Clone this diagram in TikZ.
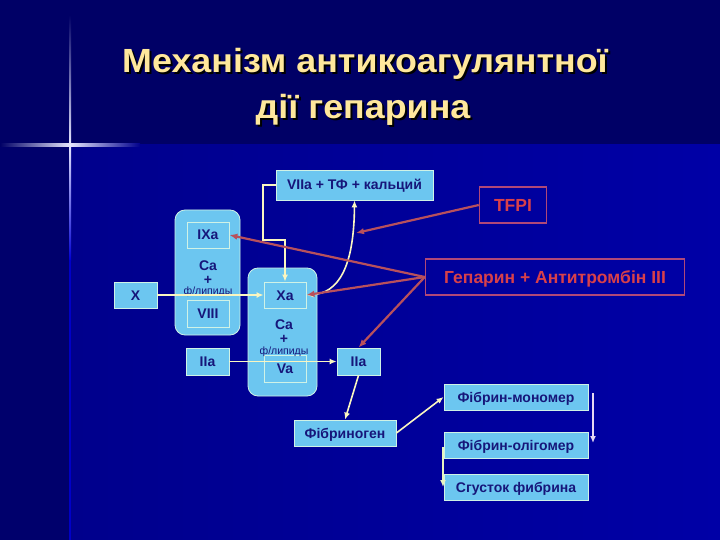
\documentclass[tikz,border=0pt]{standalone}
\usepackage{fontspec}
\setmainfont{Liberation Sans}
\usetikzlibrary{arrows.meta,calc}
\definecolor{bgtop}{HTML}{000066}
\definecolor{bgleft}{HTML}{00006C}
\definecolor{bgmainL}{HTML}{00008C}
\definecolor{bgmainR}{HTML}{0000A6}
\definecolor{boxfill}{HTML}{6CC6F0}
\definecolor{boxline}{HTML}{CFF2E6}
\definecolor{boxtext}{HTML}{16167A}
\definecolor{redline}{HTML}{B04878}
\definecolor{redtext}{HTML}{D8404A}
\definecolor{redarr}{HTML}{B8505C}
\definecolor{yel}{HTML}{FAF6C0}
\definecolor{lav}{HTML}{E6D8F2}
\definecolor{ygreen}{HTML}{E8F4C0}
\definecolor{titlecol}{HTML}{FFE89C}
\begin{document}
\begin{tikzpicture}[x=1pt,y=-1pt,
  box/.style={draw=boxline, fill=boxfill, text=boxtext, font=\bfseries\fontsize{14}{16}\selectfont, inner sep=0pt, line width=0.8pt, text height=10pt, text depth=0pt},
  grp/.style={draw=boxline, fill=boxfill, rounded corners=10pt, line width=0.8pt, inner sep=0pt},
  redbox/.style={draw=redline, text=redtext, font=\bfseries\fontsize{17.5}{19}\selectfont, inner sep=0pt, line width=1.4pt, text height=12.5pt, text depth=0pt},
  yarrow/.style={draw=yel, line width=1.6pt, -{Latex[length=7pt,width=6pt]}},
  rarrow/.style={draw=redarr, line width=2.2pt, -{Latex[length=8pt,width=6.5pt]}},
  catext/.style={text=boxtext, font=\bfseries\fontsize{14}{16}\selectfont, inner sep=0pt},
  fltext/.style={text=boxtext, font=\fontsize{10.5}{12}\selectfont, inner sep=0pt},
  ttl/.style={font=\bfseries\fontsize{33.5}{38}\selectfont, anchor=base, inner sep=0pt}
]
\useasboundingbox (0,0) rectangle (720,540);
% background
\fill[bgtop] (0,0) rectangle (720,540);
\fill[bgleft] (0,145) rectangle (70,540);
\shade[left color=bgmainL, right color=bgmainR] (70,145) rectangle (720,540);
% star
\shade[left color=bgtop, right color=white!90!blue] (0,144) rectangle (70,146.5);
\shade[left color=white!90!blue, right color=bgmainL] (70,144) rectangle (140,146.5);
\shade[top color=bgtop, bottom color=white!90!blue] (69,15) rectangle (71.2,145);
\shade[top color=white!90!blue, bottom color=blue!60!bgmainL] (69,145) rectangle (71.2,260);
\fill[blue!50!bgmainL] (69,260) rectangle (71.2,540);
% title
\node[ttl, text=black] at (367,75) {\scalebox{1.07}[1]{Механізм антикоагулянтної}};
\node[ttl, text=black] at (365,121) {\scalebox{1.07}[1]{дії гепарина}};
\node[ttl, text=titlecol] (t1) at (365,73) {\scalebox{1.07}[1]{Механізм антикоагулянтної}};
\node[ttl, text=titlecol] (t2) at (363,119) {\scalebox{1.07}[1]{дії гепарина}};
% groups
\node[grp, minimum width=65pt, minimum height=125pt] (g1) at (207.5,272.5) {};
\node[grp, minimum width=69pt, minimum height=128pt] (g2) at (282.5,332) {};
% boxes
\node[box, minimum width=157pt, minimum height=30pt] (vii) at (354.5,185) {VIIa + ТФ + кальций};
\node[redbox, minimum width=67pt, minimum height=36pt] (tfpi) at (513,205) {TFPI};
\node[redbox, minimum width=259pt, minimum height=36pt] (hep) at (555,277) {Гепарин + Антитромбін III};
\node[box, minimum width=42pt, minimum height=26pt] (ixa) at (208,235) {IXa};
\node[box, minimum width=42pt, minimum height=27pt] (viii) at (208,313.5) {VIII};
\node[box, minimum width=43pt, minimum height=26pt] (x) at (135.5,295) {X};
\node[box, minimum width=42pt, minimum height=26pt] (xa) at (285,295) {Xa};
\node[box, minimum width=42pt, minimum height=27pt] (va) at (285,368.5) {Va};
\node[box, minimum width=43pt, minimum height=27pt] (iia1) at (207.5,361.5) {IIa};
\node[box, minimum width=43pt, minimum height=27pt] (iia2) at (358.5,361.5) {IIa};
\node[box, minimum width=102pt, minimum height=26pt] (fg) at (345,433) {Фібриноген};
\node[box, minimum width=144pt, minimum height=26pt] (fm) at (516,397) {Фібрин-мономер};
\node[box, minimum width=144pt, minimum height=26pt] (fo) at (516,445) {Фібрин-олігомер};
\node[box, minimum width=144pt, minimum height=26pt] (sg) at (516,487) {Сгусток фибрина};
% Ca + phospholipids
\node[catext] (ca1) at (208,266) {Ca};
\node[catext] (p1) at (208,280.5) {+};
\node[fltext] (f1) at (208,292) {ф/липиды};
\node[catext] (ca2) at (284,325) {Ca};
\node[catext] (p2) at (284,339.5) {+};
\node[fltext] (f2) at (284,351.5) {ф/липиды};
% yellow connectors
\draw[yarrow] (x.east) -- (xa.west);
\draw[yarrow] (vii.west) -| (263,240) -| (xa.north);
\draw[draw=yel, line width=1.6pt, {Latex[length=7pt,width=6pt]}-{Latex[length=7pt,width=6pt]}] (xa.east) .. controls (338,293) and (354,268) .. (vii.south);
\draw[yarrow] (iia1.east) -- (iia2.west);
\draw[yarrow] (iia2.south) -- (fg.north);
\draw[yarrow] (fg.east) -- (fm.west);
\coordinate (r1) at (593,393);
\coordinate (r2) at (593,443);
\draw[draw=lav, line width=1.4pt, -{Latex[length=7pt,width=6pt]}] (r1) -- (r2);
\coordinate (l1) at (443,447);
\coordinate (l2) at (443,487);
\draw[draw=ygreen, line width=1.6pt, -{Latex[length=7pt,width=6pt]}] (l1) -- (l2);
% red connectors
\coordinate (tc) at (356,233);
\draw[rarrow] (tfpi.west) -- (tc);
\draw[rarrow] (hep.west) -- (ixa.east);
\draw[rarrow] (hep.west) -- (xa.east);
\draw[rarrow] (hep.west) -- (iia2.north);
\end{tikzpicture}
\end{document}
